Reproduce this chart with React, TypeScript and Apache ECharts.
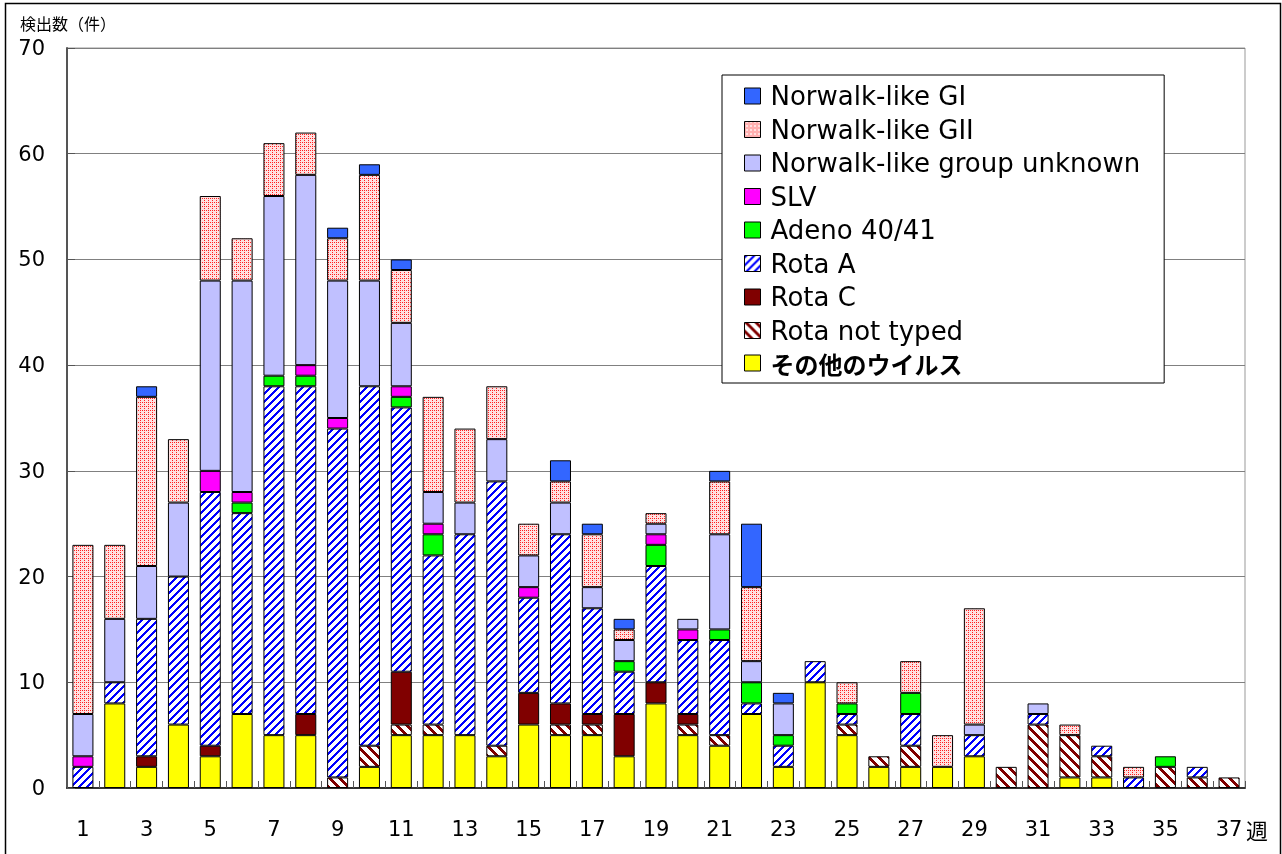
import React, { useEffect, useRef } from "react";
import * as echarts from "echarts";

const weeks = Array.from({ length: 37 }, (_, i) => String(i + 1));

const otherVirus = [0, 8, 2, 6, 3, 7, 5, 5, 0, 2, 5, 5, 5, 3, 6, 5, 5, 3, 8, 5, 4, 7, 2, 10, 5, 2, 2, 2, 3, 0, 0, 1, 1, 0, 0, 0, 0];
const rotaNotTyped = [0, 0, 0, 0, 0, 0, 0, 0, 1, 2, 1, 1, 0, 1, 0, 1, 1, 0, 0, 1, 1, 0, 0, 0, 1, 1, 2, 0, 0, 2, 6, 4, 2, 0, 2, 1, 1];
const rotaC = [0, 0, 1, 0, 1, 0, 0, 2, 0, 0, 5, 0, 0, 0, 3, 2, 1, 4, 2, 1, 0, 0, 0, 0, 0, 0, 0, 0, 0, 0, 0, 0, 0, 0, 0, 0, 0];
const rotaA = [2, 2, 13, 14, 24, 19, 33, 31, 33, 34, 25, 16, 19, 25, 9, 16, 10, 4, 11, 7, 9, 1, 2, 2, 1, 0, 3, 0, 2, 0, 1, 0, 1, 1, 0, 1, 0];
const adeno = [0, 0, 0, 0, 0, 1, 1, 1, 0, 0, 1, 2, 0, 0, 0, 0, 0, 1, 2, 0, 1, 2, 1, 0, 1, 0, 2, 0, 0, 0, 0, 0, 0, 0, 1, 0, 0];
const slv = [1, 0, 0, 0, 2, 1, 0, 1, 1, 0, 1, 1, 0, 0, 1, 0, 0, 0, 1, 1, 0, 0, 0, 0, 0, 0, 0, 0, 0, 0, 0, 0, 0, 0, 0, 0, 0];
const nlvUnknown = [4, 6, 5, 7, 18, 20, 17, 18, 13, 10, 6, 3, 3, 4, 3, 3, 2, 2, 1, 1, 9, 2, 3, 0, 0, 0, 0, 0, 1, 0, 1, 0, 0, 0, 0, 0, 0];
const nlvGII = [16, 7, 16, 6, 8, 4, 5, 4, 4, 10, 5, 9, 7, 5, 3, 2, 5, 1, 1, 0, 5, 7, 0, 0, 2, 0, 3, 3, 11, 0, 0, 1, 0, 1, 0, 0, 0];
const nlvGI = [0, 0, 1, 0, 0, 0, 0, 0, 1, 1, 1, 0, 0, 0, 0, 2, 1, 1, 0, 0, 1, 6, 1, 0, 0, 0, 0, 0, 0, 0, 0, 0, 0, 0, 0, 0, 0];

const yTicks = [0, 10, 20, 30, 40, 50, 60, 70];

const NAMES = {
  gi: "Norwalk-like GI",
  gii: "Norwalk-like GII",
  unk: "Norwalk-like group unknown",
  slv: "SLV",
  adeno: "Adeno 40/41",
  ra: "Rota A",
  rc: "Rota C",
  rnt: "Rota not typed",
  other: "その他のウイルス",
};

function makeTile(w: number, h: number, bg: string, fg: string, test: (x: number, y: number) => boolean) {
  const c = document.createElement("canvas");
  c.width = w;
  c.height = h;
  const ctx = c.getContext("2d")!;
  ctx.fillStyle = bg;
  ctx.fillRect(0, 0, w, h);
  ctx.fillStyle = fg;
  for (let y = 0; y < h; y++) {
    for (let x = 0; x < w; x++) {
      if (test(x, y)) ctx.fillRect(x, y, 1, 1);
    }
  }
  return { image: c.toDataURL(), repeat: "repeat", imageWidth: w, imageHeight: h } as any;
}

export default function App() {
  const ref = useRef<HTMLDivElement>(null);
  useEffect(() => {
    if (!ref.current) return;
    const chart = echarts.init(ref.current, undefined, { renderer: "svg" });

    const rotaAPattern = makeTile(8, 8, "#ffffff", "#0000ff", (x, y) => (x + y) % 8 < 3);
    const rntPattern = makeTile(10, 10, "#ffffff", "#800000", (x, y) => (((x - y) % 10) + 10) % 10 < 4);
    const giiPattern = makeTile(4, 4, "#ffe0e0", "#ff2020", (x, y) => (x === 0 && y === 0) || (x === 2 && y === 2) || (x === 0 && y === 2));

    const font = '"DejaVu Sans", "Noto Sans CJK JP", sans-serif';
    const toData = (arr: number[]) => arr.map((v) => (v === 0 ? null : v));

    const mk = (name: string, arr: number[], color: any) => ({
      name,
      type: "bar",
      stack: "all",
      data: toData(arr),
      barCategoryGap: "34%",
      itemStyle: { color, borderColor: "#000", borderWidth: 1 },
      emphasis: { disabled: true },
    });

    const series = [
      mk(NAMES.other, otherVirus, "#ffff00"),
      mk(NAMES.rnt, rotaNotTyped, rntPattern),
      mk(NAMES.rc, rotaC, "#800000"),
      mk(NAMES.ra, rotaA, rotaAPattern),
      mk(NAMES.adeno, adeno, "#00ff00"),
      mk(NAMES.slv, slv, "#ff00ff"),
      mk(NAMES.unk, nlvUnknown, "#c0c0ff"),
      mk(NAMES.gii, nlvGII, giiPattern),
      mk(NAMES.gi, nlvGI, "#3366ff"),
    ];

    chart.setOption({
      animation: false,
      textStyle: { fontFamily: font },
      grid: {
        left: 67,
        right: 37,
        top: 48,
        bottom: 66,
        show: true,
        borderColor: "#999",
        borderWidth: 1,
      },
      legend: {
        orient: "vertical",
        left: 722,
        top: 75,
        padding: [8, 24, 8, 22],
        itemGap: 7.5,
        itemWidth: 16,
        itemHeight: 16,
        backgroundColor: "#fff",
        borderColor: "#000",
        borderWidth: 1,
        icon: "rect",
        selectedMode: false,
        itemStyle: { borderColor: "#000", borderWidth: 1 },
        textStyle: { fontSize: 26, color: "#000", fontFamily: font, padding: [0, 0, 0, 5] },
        data: [
          NAMES.gi,
          NAMES.gii,
          NAMES.unk,
          NAMES.slv,
          NAMES.adeno,
          NAMES.ra,
          NAMES.rc,
          NAMES.rnt,
          { name: NAMES.other, textStyle: { fontWeight: "bold", fontFamily: '"Noto Sans CJK JP", sans-serif', fontSize: 24 } },
        ],
      },
      xAxis: {
        type: "category",
        data: weeks,
        axisLine: { show: true, lineStyle: { color: "#333", width: 2 } },
        axisTick: { show: true, inside: true, length: 7, interval: 0, lineStyle: { color: "#555" } },
        axisLabel: { interval: 1, fontSize: 21, color: "#000", margin: 30, fontFamily: font },
      },
      yAxis: {
        type: "value",
        min: yTicks[0],
        max: yTicks[yTicks.length - 1],
        interval: 10,
        axisLine: { show: true, lineStyle: { color: "#555", width: 2 } },
        axisTick: { show: true, inside: true, length: 8, lineStyle: { color: "#555" } },
        axisLabel: { fontSize: 21, color: "#000", margin: 22, fontFamily: font },
        splitLine: { show: true, lineStyle: { color: "#808080", width: 1 } },
      },
      graphic: [
        {
          type: "rect",
          shape: { x: 5.5, y: 3.5, width: 1275, height: 860 },
          style: { fill: "none", stroke: "#000", lineWidth: 1.5 },
          silent: true,
          z: 100,
        },
        {
          type: "text",
          left: 20,
          top: 15,
          style: { text: "検出数（件）", font: '16px "Noto Sans CJK JP", sans-serif', fill: "#000" },
        },
        {
          type: "text",
          left: 1246,
          top: 818,
          style: { text: "週", font: '22px "Noto Sans CJK JP", sans-serif', fill: "#000" },
        },
      ],
      series,
    } as any);

    return () => chart.dispose();
  }, []);

  return <div ref={ref} style={{ position: "fixed", left: 0, top: 0, width: 1282, height: 854 }} />;
}
